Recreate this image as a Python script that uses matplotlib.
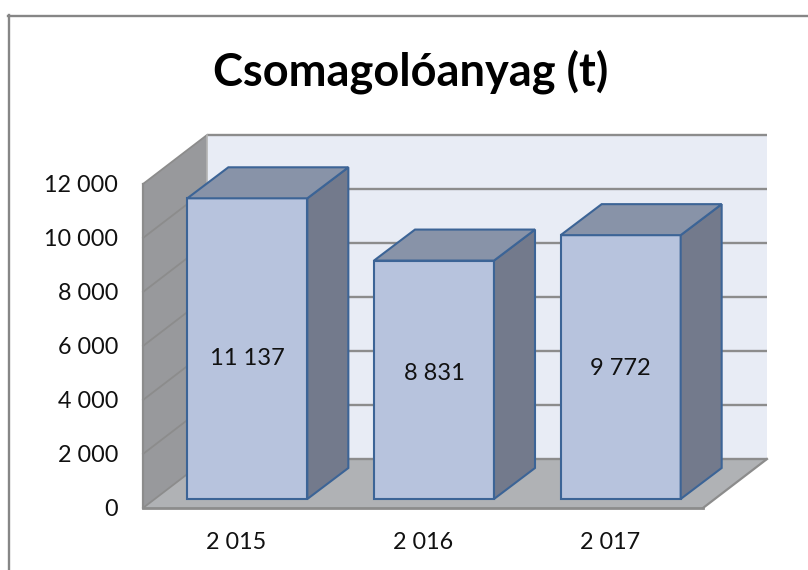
import matplotlib
matplotlib.use("Agg")
import matplotlib.pyplot as plt
from matplotlib.patches import Polygon
from matplotlib.transforms import offset_copy

plt.rcParams['font.family'] = ['Lato', 'DejaVu Sans']

title = "Csomagolóanyag (t)"
years = ["2 015", "2 016", "2 017"]
values = [11137, 8831, 9772]
value_labels = ["11 137", "8 831", "9 772"]
label_shift_px = [10, -6, 1]
yticks = [0, 2000, 4000, 6000, 8000, 10000, 12000]
ytick_labels = ["0", "2 000", "4 000", "6 000", "8 000", "10 000", "12 000"]

W, H = 808, 570
fig = plt.figure(figsize=(W / 100, H / 100), dpi=100, facecolor="white")

# front plane of the 3-D box, in pixels
L, R, T, B = 143, 703, 184, 508
ax = fig.add_axes([L / W, 1 - B / H, (R - L) / W, (B - T) / H])
ax.set_xlim(-0.5, 2.5)
ax.set_ylim(0, 12000)
ax.patch.set_visible(False)
for s in ax.spines.values():
    s.set_visible(False)

px_x = 3 / (R - L)
px_y = 12000 / (B - T)


def dep(x, y, dx_px, dy_px):
    return (x + dx_px * px_x, y + dy_px * px_y)


def poly(points, face, edge, lw, z):
    ax.add_patch(Polygon(points, closed=True, facecolor=face, edgecolor=edge,
                         linewidth=lw, zorder=z, clip_on=False, joinstyle="miter"))


DX, DY = 64, 49
x0, x1 = -0.5, 2.5

# back wall
poly([dep(x0, 0, DX, DY), dep(x1, 0, DX, DY), dep(x1, 12000, DX, DY), dep(x0, 12000, DX, DY)],
     "#e8ecf5", "none", 0, 1)
# left wall
poly([(x0, 0), dep(x0, 0, DX, DY), dep(x0, 12000, DX, DY), (x0, 12000)],
     "#98999c", "none", 0, 2)
# floor
poly([(x0, 0), (x1, 0), dep(x1, 0, DX, DY), dep(x0, 0, DX, DY)],
     "#b0b2b5", "none", 0, 2)

grid_c = "#8c8c8c"
for v in yticks:
    a, b = dep(x0, v, DX, DY), dep(x1, v, DX, DY)
    ax.plot([a[0], b[0]], [a[1], b[1]], color=grid_c, lw=1.7, zorder=3, clip_on=False,
            solid_capstyle="butt")
    ax.plot([x0, a[0]], [v, a[1]], color=grid_c, lw=1.3, zorder=3, clip_on=False)
# box edges
ax.plot([x0, x0], [0, 12000], color=grid_c, lw=1.6, zorder=3, clip_on=False)
ax.plot([x0, x1], [0, 0], color=grid_c, lw=2.0, zorder=3, clip_on=False)
a = dep(x1, 0, DX, DY)
ax.plot([x1, a[0]], [0, a[1]], color=grid_c, lw=1.6, zorder=3, clip_on=False)
a = dep(x0, 0, DX, DY)
ax.plot([a[0], a[0]], [a[1], 12000 + DY * px_y], color="#b4b4b4", lw=1.2, zorder=3, clip_on=False)

# bars
bw = 120 * px_x
OX, OY = 11, 9
BDX, BDY = 41, 31
edge = "#3c6496"
for i, (v, lab, sh) in enumerate(zip(values, value_labels, label_shift_px)):
    xl, _ = dep(i - bw / 2, 0, OX, OY)
    xr = xl + bw
    yb = OY * px_y
    yt = v + yb
    poly([(xl, yb), (xr, yb), (xr, yt), (xl, yt)], "#b7c3dd", edge, 1.5, 10 + i)
    poly([(xr, yb), dep(xr, yb, BDX, BDY), dep(xr, yt, BDX, BDY), (xr, yt)],
         "#737a8c", edge, 1.5, 10 + i)
    poly([(xl, yt), (xr, yt), dep(xr, yt, BDX, BDY), dep(xl, yt, BDX, BDY)],
         "#8893a8", edge, 1.5, 10 + i)
    tr = offset_copy(ax.transData, fig=fig, x=0, y=-sh * 72 / 100, units="points")
    ax.text((xl + xr) / 2, yb + v / 2, lab, ha="center", va="center", fontsize=17,
            color="#111111", zorder=20, transform=tr)

ax.set_yticks(yticks)
ax.set_yticklabels(ytick_labels)
ax.set_xticks(range(len(years)))
ax.set_xticklabels(years)
ax.tick_params(axis="y", length=0, pad=18, labelsize=16.8, labelcolor="#111111")
ax.tick_params(axis="x", length=0, pad=17.5, labelsize=16.8, labelcolor="#111111")

fig.text(411 / W, 1 - 72 / H, title, ha="center", va="center", fontsize=32.5,
         fontweight="bold", color="black")

# chart frame: left and top edges only are inside the picture
fr = "#868686"
fig.add_artist(plt.Line2D([8.5 / W, 8.5 / W], [0, 1 - 15 / H], color=fr, lw=1.7,
                          transform=fig.transFigure))
fig.add_artist(plt.Line2D([8 / W, 1], [1 - 15.5 / H, 1 - 15.5 / H], color=fr, lw=1.7,
                          transform=fig.transFigure))

fig.savefig("out.png", dpi=100, facecolor="white")
